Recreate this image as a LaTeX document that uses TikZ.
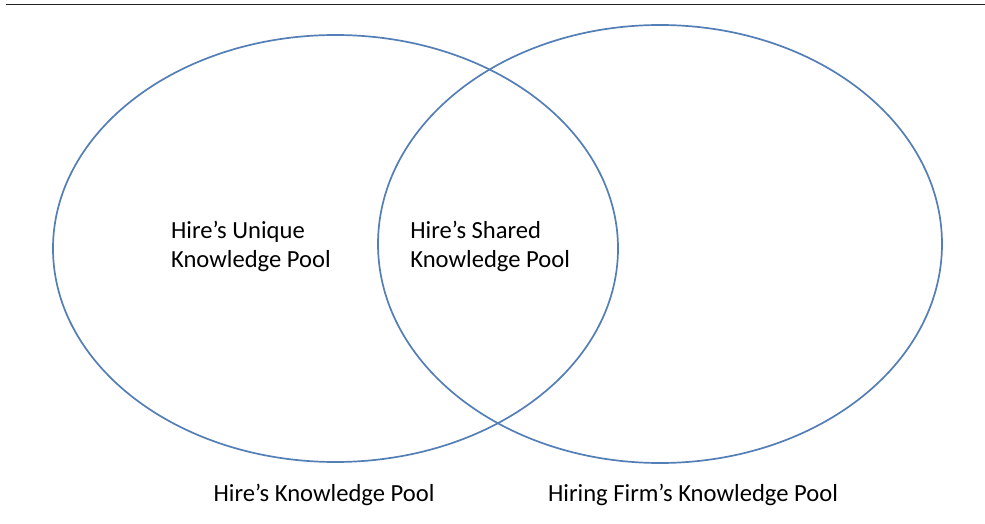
\documentclass[tikz,border=0pt]{standalone}
\usepackage{fontspec}
\setmainfont{Carlito}
\definecolor{poolblue}{RGB}{84,126,182}
\definecolor{rulegray}{RGB}{34,34,34}

\begin{document}
\begin{tikzpicture}[x=0.5pt,y=-0.5pt,
  pool/.style={poolblue, line width=0.85pt},
  poollabel/.style={font=\fontsize{12.3}{14.5}\selectfont, inner sep=0pt, align=left}]
\useasboundingbox (0,0) rectangle (985,524);
\draw[rulegray, line width=0.7pt] (6,4.7) -- (985,4.7);
% the two knowledge pools
\draw[pool] (335.5,248.5) ellipse [x radius=282.5, y radius=213.5];
\draw[pool] (660,244) ellipse [x radius=282, y radius=219];
\node[poollabel, anchor=base west] (unique) at (170.7,267) {Hire's Unique\\Knowledge Pool};
\node[poollabel, anchor=base west] (shared) at (410,267) {Hire's Shared\\Knowledge Pool};
\node[poollabel, anchor=base] (hire) at (324,501) {Hire's Knowledge Pool};
\node[poollabel, anchor=base] (firm) at (693,501) {Hiring Firm's Knowledge Pool};
\end{tikzpicture}
\end{document}
